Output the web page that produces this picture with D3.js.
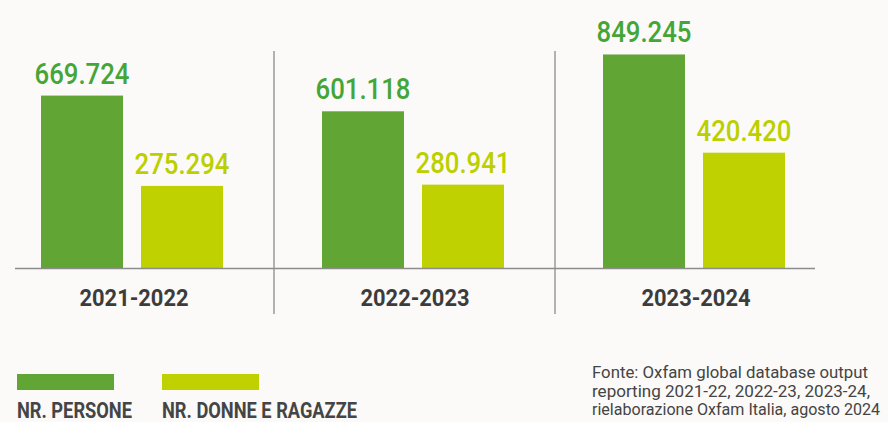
<!DOCTYPE html>
<html>
<head>
<meta charset="utf-8">
<script src="https://cdn.jsdelivr.net/npm/d3@7"></script>
<style>
  html, body { margin: 0; padding: 0; background: #fbfaf8; }
  svg { display: block; }
  text { font-family: Roboto, "Noto Sans", sans-serif; }
</style>
</head>
<body>
<div id="chart"></div>
<script>
// data
var years = ["2021-2022", "2022-2023", "2023-2024"];
var series = ["NR. PERSONE", "NR. DONNE E RAGAZZE"];
var persone = [669724, 601118, 849245];
var donne = [275294, 280941, 420420];
var sourceLines = [
  "Fonte: Oxfam global database output",
  "reporting 2021-22, 2022-23, 2023-24,",
  "rielaborazione Oxfam Italia, agosto 2024"
];

var colors = ["#61a535", "#bfd100"];
var labelColors = ["#45a537", "#bccf00"];
var fmt = function(v) { return d3.format(",")(v).replace(/,/g, "."); };

(function() {
  var W = 888, H = 422, base = 268;

  var svg = d3.select("#chart").append("svg")
    .attr("width", W).attr("height", H);
  svg.append("rect").attr("width", W).attr("height", H).attr("fill", "#fbfaf8");

  var x = d3.scalePoint().domain(years).range([132, 694]);
  var xs = d3.scaleBand().domain(series).range([-91, 91]).paddingInner(0.18);
  var y = d3.scaleLinear().domain([-83000, 860000]).range([base, 52]);

  // separators between groups
  var mids = [(x(years[0]) + x(years[1])) / 2, (x(years[1]) + x(years[2])) / 2];
  svg.selectAll(".sep").data(mids).enter().append("line")
    .attr("x1", function(d) { return d + 1.5; }).attr("x2", function(d) { return d + 1.5; })
    .attr("y1", 51).attr("y2", 314)
    .attr("stroke", "#9a9a9a").attr("stroke-width", 1.5);

  var rows = [];
  years.forEach(function(yr, i) {
    rows.push({ year: yr, s: 0, v: persone[i] });
    rows.push({ year: yr, s: 1, v: donne[i] });
  });

  var g = svg.append("g");
  g.selectAll("rect.bar").data(rows).enter().append("rect")
    .attr("class", "bar")
    .attr("x", function(d) { return x(d.year) + xs(series[d.s]); })
    .attr("width", xs.bandwidth())
    .attr("y", function(d) { return y(d.v); })
    .attr("height", function(d) { return base - y(d.v); })
    .attr("fill", function(d) { return colors[d.s]; });

  g.selectAll("text.val").data(rows).enter().append("text")
    .attr("class", "val")
    .attr("x", function(d) { return x(d.year) + xs(series[d.s]) + xs.bandwidth() / 2; })
    .attr("y", function(d) { return y(d.v) - 12; })
    .attr("text-anchor", "middle")
    .attr("font-size", 29)
    .attr("font-weight", 500)
    .attr("textLength", 95).attr("lengthAdjust", "spacingAndGlyphs")
    .attr("fill", function(d) { return labelColors[d.s]; })
    .text(function(d) { return fmt(d.v); });

  // baseline
  svg.append("line")
    .attr("x1", 15).attr("x2", 815).attr("y1", base + 0.5).attr("y2", base + 0.5)
    .attr("stroke", "#8c8c8c").attr("stroke-width", 1.5);

  // year labels
  svg.selectAll("text.yr").data(years).enter().append("text")
    .attr("class", "yr")
    .attr("x", function(d) { return x(d) + 2; })
    .attr("y", 306)
    .attr("text-anchor", "middle")
    .attr("font-size", 23).attr("font-weight", 700)
    .attr("textLength", 109).attr("lengthAdjust", "spacingAndGlyphs")
    .attr("fill", "#3c3c3c")
    .text(function(d) { return d; });

  // legend
  var legX = [17, 162], legW = [115, 195];
  var leg = svg.selectAll("g.leg").data(series).enter().append("g")
    .attr("transform", function(d, i) { return "translate(" + legX[i] + ",0)"; });
  leg.append("rect").attr("y", 374).attr("width", 97).attr("height", 16)
    .attr("fill", function(d, i) { return colors[i]; });
  leg.append("text").attr("y", 418)
    .attr("font-size", 22).attr("font-weight", 700)
    .attr("textLength", function(d, i) { return legW[i]; })
    .attr("lengthAdjust", "spacingAndGlyphs")
    .attr("fill", "#454545")
    .text(function(d) { return d; });

  // source note
  var srcW = [276, 278, 288];
  svg.selectAll("text.src").data(sourceLines).enter().append("text")
    .attr("class", "src")
    .attr("x", 592)
    .attr("y", function(d, i) { return 378 + i * 18.5; })
    .attr("font-size", 17)
    .attr("textLength", function(d, i) { return srcW[i]; })
    .attr("lengthAdjust", "spacingAndGlyphs")
    .attr("fill", "#444")
    .text(function(d) { return d; });
})();
</script>
</body>
</html>
